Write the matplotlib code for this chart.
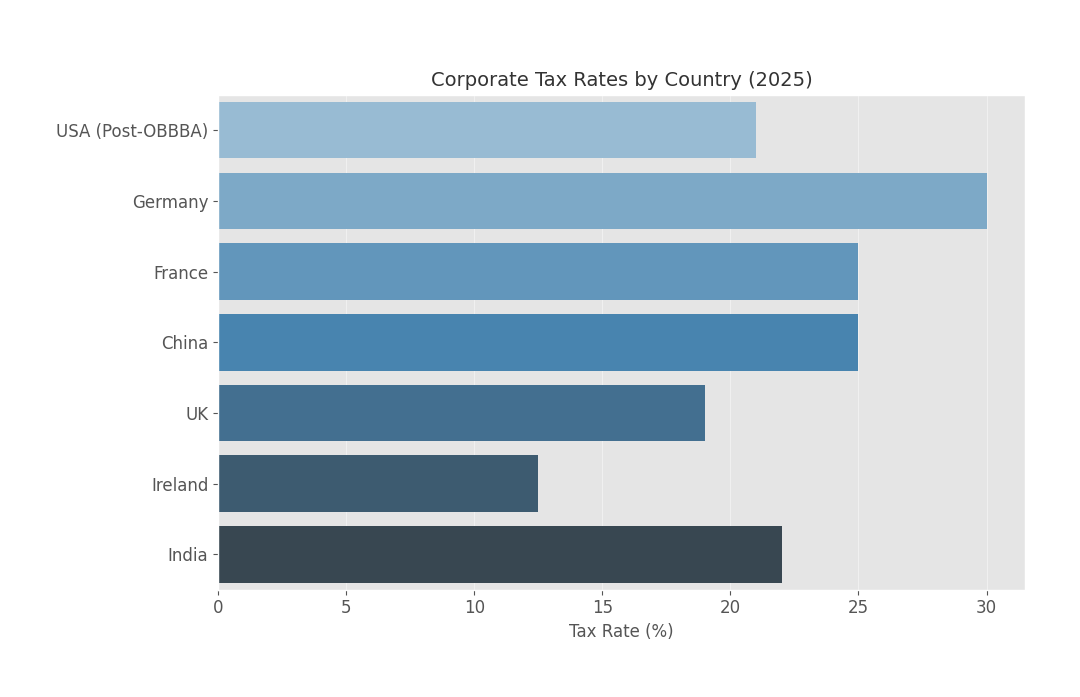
import matplotlib
matplotlib.use('Agg')
import matplotlib.pyplot as plt
import seaborn as sns
import pandas as pd

# chart values
countries = ['USA (Post-OBBBA)', 'Germany', 'France', 'China', 'UK', 'Ireland', 'India']
tax_rates = [21, 30, 25, 25, 19, 12.5, 22]

df = pd.DataFrame({'Country': countries, 'Tax Rate': tax_rates})

plt.style.use('ggplot')
fig = plt.figure(figsize=(10.8, 6.97), dpi=100)
ax = fig.add_axes([0.202, 0.154, 0.747, 0.71])

sns.barplot(data=df, x='Tax Rate', y='Country', hue='Country',
            palette=sns.color_palette('Blues_d', len(countries)),
            legend=False, ax=ax)

ax.set_title('Corporate Tax Rates by Country (2025)', fontsize=14, color='#333333')
ax.set_xlabel('Tax Rate (%)', fontsize=12, color='#555555')
ax.set_ylabel('')
ax.tick_params(axis='both', labelsize=12, colors='#555555')
ax.grid(axis='y', visible=False)
ax.grid(axis='x', color='white', alpha=0.45)

plt.savefig('out.png', dpi=100)
